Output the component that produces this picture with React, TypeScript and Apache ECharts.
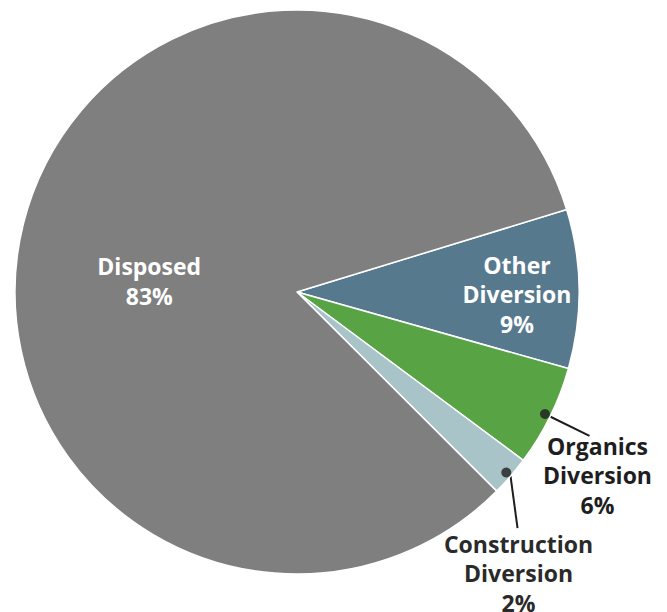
import React, { useEffect, useRef } from "react";
import * as echarts from "echarts";

const categories = ["Other Diversion", "Organics Diversion", "Construction Diversion", "Disposed"];
const values = [9.1, 5.8, 2.3, 82.8];
const colors = ["#56798d", "#58a445", "#a9c4c8", "#7f7f7f"];
const labelPositions = ["inside", "outside", "outside", "inside"];
const labelColors = ["#ffffff", "#1e1e1e", "#2a2a2a", "#ffffff"];

const FONT = "'Open Sans', 'Noto Sans', sans-serif";

export default function App() {
  const ref = useRef<HTMLDivElement>(null);

  useEffect(() => {
    if (!ref.current) return;
    const chart = echarts.init(ref.current, null, { renderer: "svg" });
    const total = values.reduce((a, b) => a + b, 0);
    const mids: number[] = [];
    let cum = 0;
    values.forEach((v) => {
      mids.push(cum + v / 2);
      cum += v;
    });
    const dots = values
      .map((_, i) => (labelPositions[i] === "outside" ? [0.98, mids[i]] : null))
      .filter((d) => d !== null);

    const data = categories.map((name, i) => ({
      name,
      value: values[i],
      itemStyle: { color: colors[i] },
      label: { position: labelPositions[i], color: labelColors[i] },
      labelLine: { show: labelPositions[i] === "outside" },
    }));

    chart.setOption({
      animation: false,
      polar: { center: [297, 292], radius: 282 },
      angleAxis: {
        type: "value",
        min: 0,
        max: total,
        startAngle: 17,
        clockwise: true,
        show: false,
      },
      radiusAxis: { type: "value", min: 0, max: 1, show: false },
      series: [
        {
          type: "pie",
          center: [297, 292],
          radius: 282,
          startAngle: 17,
          clockwise: true,
          avoidLabelOverlap: false,
          data,
          itemStyle: { borderColor: "#ffffff", borderWidth: 1.5 },
          label: {
            fontFamily: FONT,
            fontWeight: "bold",
            fontSize: 23,
            lineHeight: 29.5,
            align: "center",
            formatter: (p: any) =>
              p.name.replace(" ", "\n") + "\n" + Math.round(p.percent) + "%",
          },
          labelLine: {
            length: 44,
            length2: 0,
            lineStyle: { color: "#1e1e1e", width: 2 },
          },
          labelLayout: (params: any) => {
            const i = params.dataIndex;
            const pts = params.labelLinePoints;
            if (i === 1 && pts) {
              const end = pts[1];
              return {
                x: end[0] + 8,
                y: end[1] - 5,
                align: "center",
                verticalAlign: "top",
                labelLinePoints: [pts[0], end, end],
              };
            }
            if (i === 2 && pts) {
              const s = pts[0];
              const end = [s[0] + 7, s[1] + 52];
              return {
                x: end[0] + 1,
                y: end[1] + 1,
                align: "center",
                verticalAlign: "top",
                labelLinePoints: [s, end, end],
              };
            }
            if (i === 0) return { dx: 76, dy: 4 };
            if (i === 3) return { dx: -8, dy: 23.5 };
            return {};
          },
          z: 1,
        },
        {
          type: "scatter",
          coordinateSystem: "polar",
          data: dots,
          symbol: "circle",
          symbolSize: 10,
          itemStyle: { color: "#1e1e1e" },
          silent: true,
          z: 5,
        },
      ],
    });
    return () => chart.dispose();
  }, []);

  return (
    <div
      ref={ref}
      style={{ position: "fixed", left: 0, top: 0, width: 667, height: 612, background: "#ffffff" }}
    />
  );
}
